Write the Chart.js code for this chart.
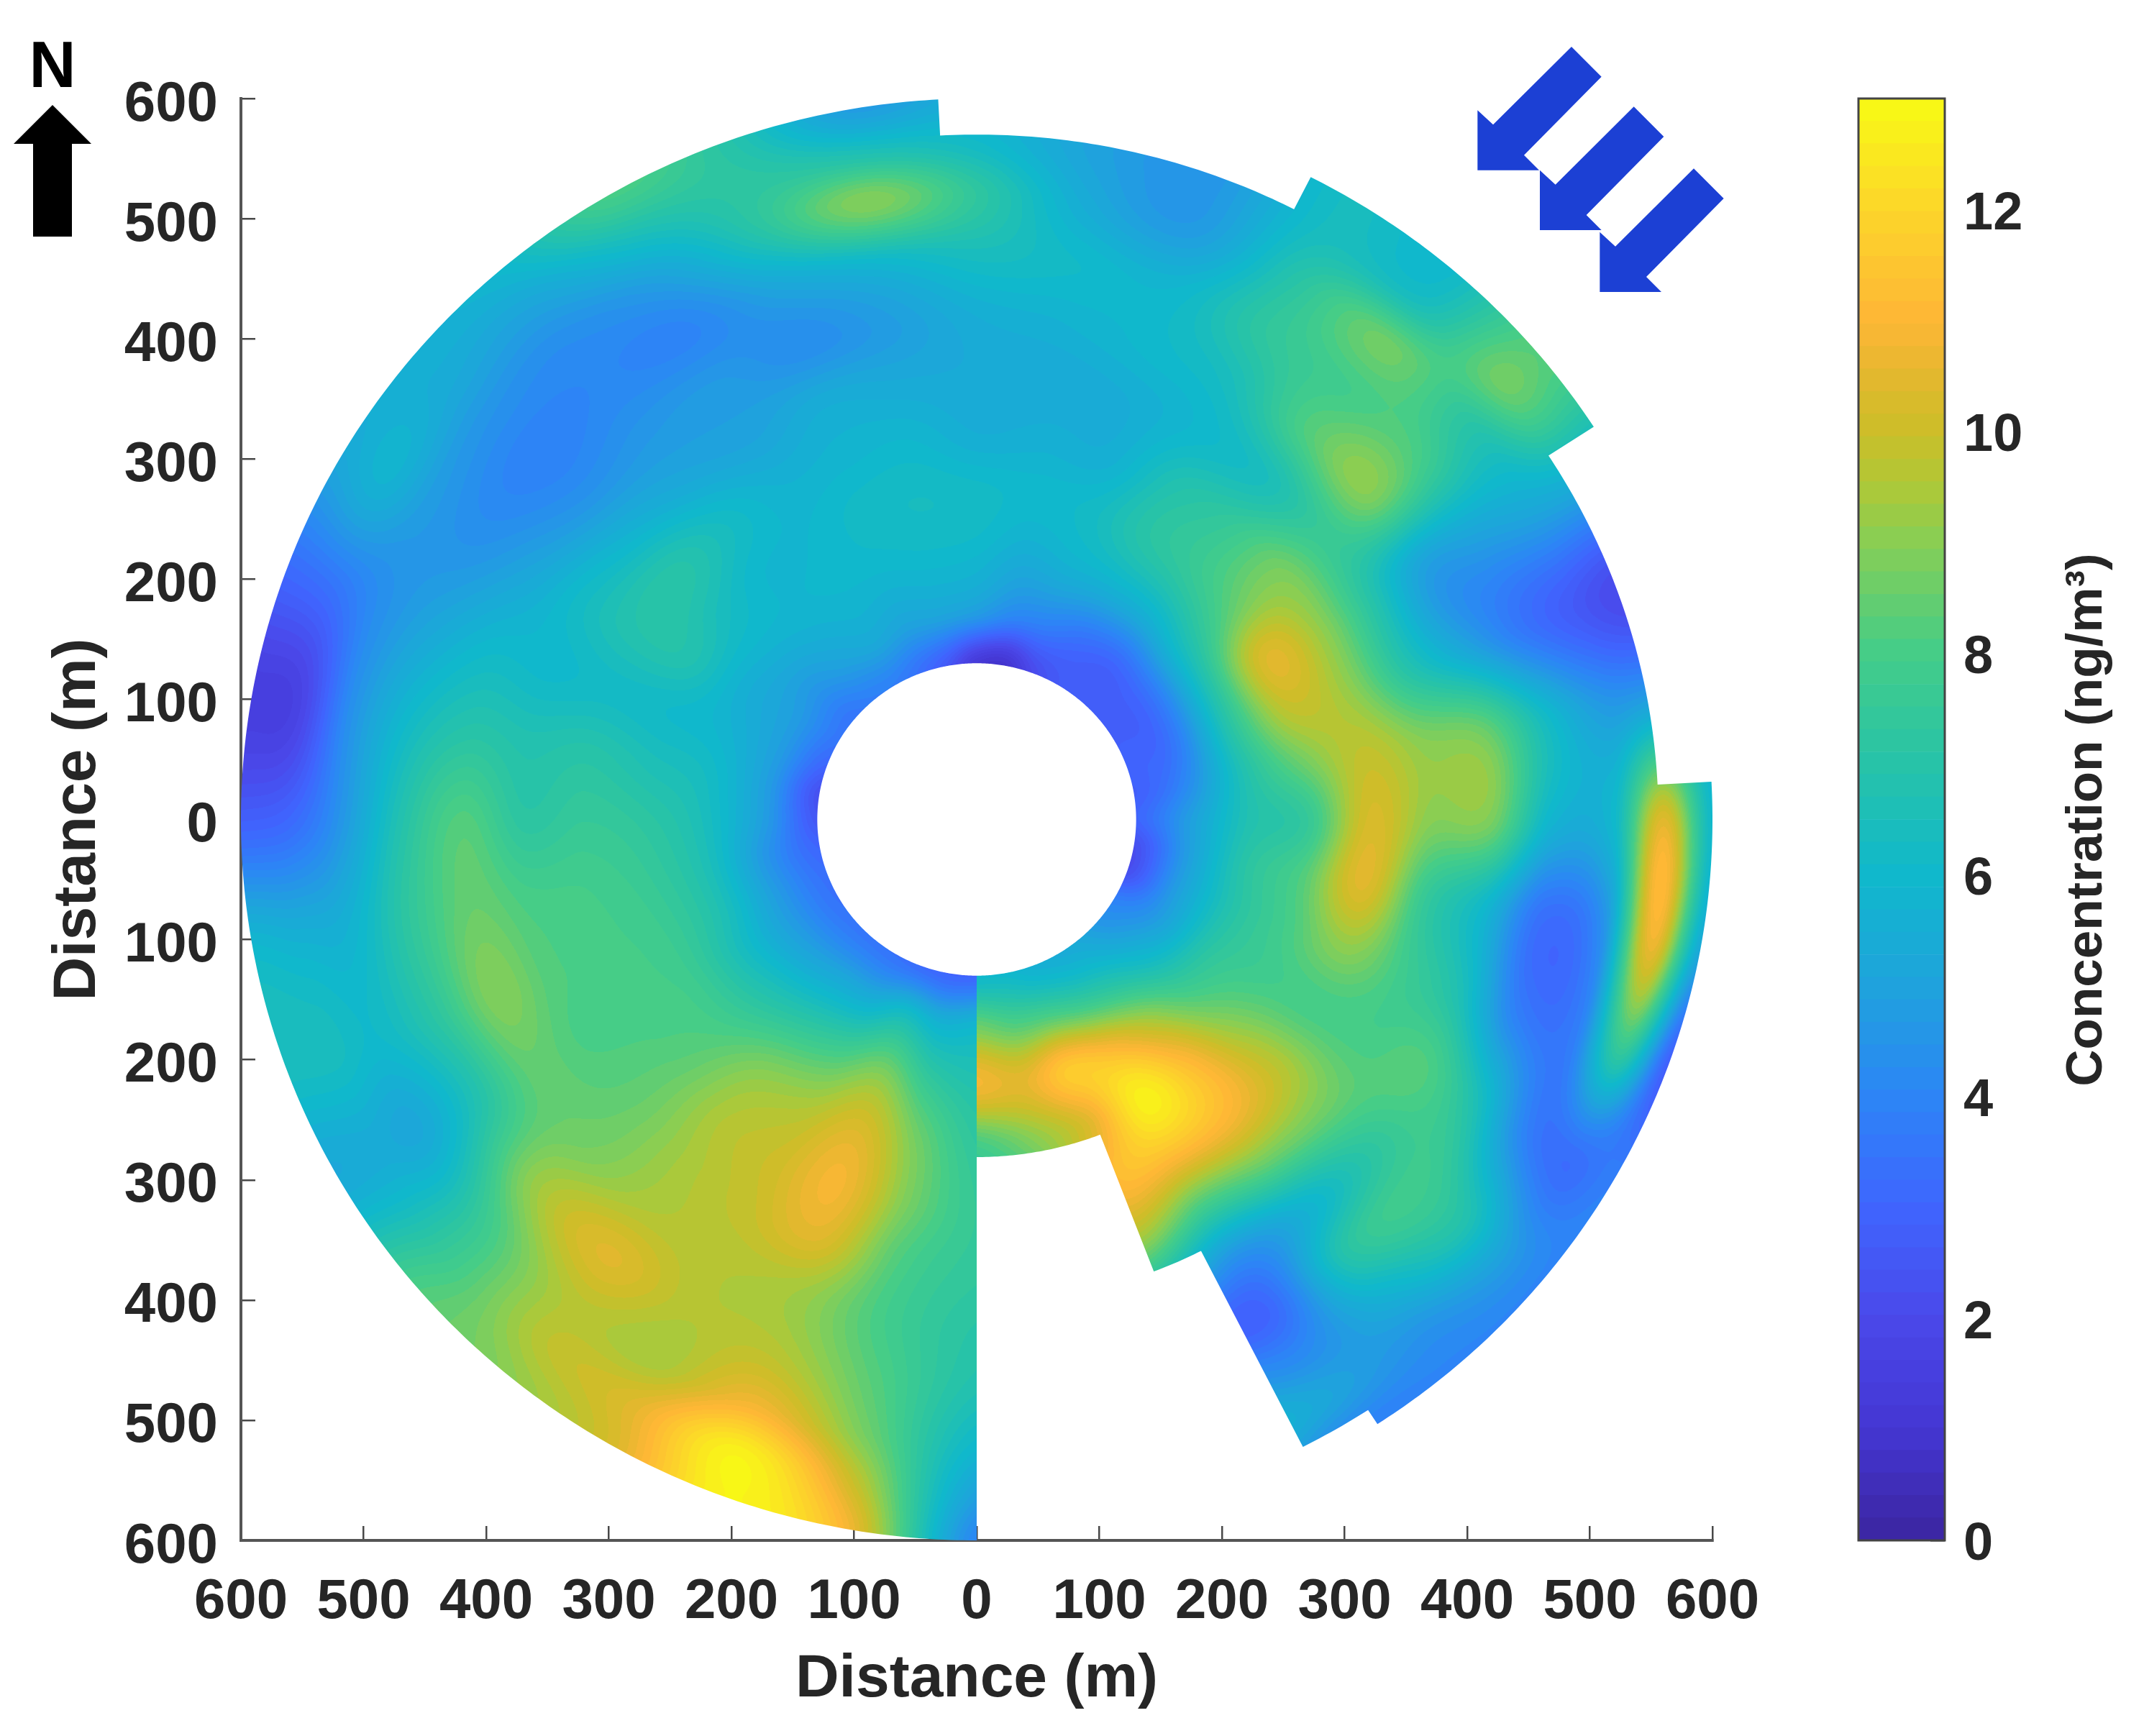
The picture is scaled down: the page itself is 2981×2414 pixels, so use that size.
<!DOCTYPE html>
<html>
<head>
<meta charset="utf-8">
<style>
html,body{margin:0;padding:0;background:#fff;width:2981px;height:2414px;overflow:hidden}
canvas{position:absolute;left:0;top:0}
</style>
<script src="https://cdn.jsdelivr.net/npm/chart.js@4"></script>
</head>
<body>
<canvas id="map" width="2981" height="2414"></canvas>
<canvas id="bar" width="2981" height="2414"></canvas>
<script>
// Axis labels and ticks
const xTitle = 'Distance (m)';
const yTitle = 'Distance (m)';
const barTitle = 'Concentration (ng/m³)';
const axisLimit = 600;
const axisStep = 100;
const barMax = 13;
const barStep = 2;

// Range rings (m) of the polar grid
const rings = [130,170,220,270,320,370,420,470,520,560,600];

// Concentration (ng/m3) read along each azimuth (deg clockwise from north), one value per ring
const az180w = [3,5.8,6.8,7.3,7.5,7.4,7.1,6.8,6,5,4];
const az190 = [3,5.6,7.4,8.6,8.8,8.2,7.9,8.2,8.7,9.8,10.8];
const az200 = [3.2,6.2,8.7,10.2,10.8,10.4,9.3,9.6,10.8,12.7,12.8];
const az210 = [3.4,5.4,7.8,9.4,10,9.9,9.6,9.6,9.4,10.4,10.2];
const az220 = [3.5,5.2,7.2,8.9,9.5,9.4,9.5,10.4,9.6,9.6,9];
const az230 = [3.5,4.9,6.7,8,8.4,8.5,8.7,9.2,7.8,7.6,8];
const az240 = [3.4,4.7,6.4,7.8,8,8.1,8.4,6.8,5.3,5.4,5.3];
const az250 = [3.3,4.6,6.6,7.7,8,8.2,8.9,7.2,6.1,6.4,6.4];
const az260 = [3,4.4,6.5,7.5,7.9,8,8.5,7.3,5.7,5.6,5.9];
const az270 = [2.5,4.7,6.4,7.2,7.5,7.2,8.2,6.8,4.5,3.1,2.8];
const az280 = [2.3,4.7,6.2,6.6,7,6.8,7,6.1,4.3,1.8,1.5];
const az290 = [3,4.8,5.8,6.1,6.2,6,6,5.2,4.3,3.4,3.1];
const az300 = [3.5,4.8,5.6,6.8,6.9,6.2,5.1,4.4,4.8,5.7,5.2];
const az310 = [3.5,4.6,5.7,6.4,7,5.7,4.4,3.9,4.5,5.3,5.6];
const az320 = [3.8,5,5.8,5.9,6.3,5.2,4.6,4.1,4.3,5.1,6];
const az330 = [3.8,5.3,5.9,5.9,5.7,5,4.7,4,5,6.5,8];
const az340 = [3.3,5,5.9,6.2,5.8,5.4,4.3,5.1,7,7.2,7];
const az350 = [2.5,5,6,6.3,5.9,5.3,4.8,5.9,8.9,6.8,4.8];
const az000 = [1.2,4.7,5.9,6.2,5.5,5.3,5.5,6.4,7.3,6.2,5.5];
const az010 = [0.9,4,5.4,6,5.6,5.3,5.7,6.1,5.4,5,5];
const az020 = [2,3.8,5.6,6.2,5.6,5.5,6,5.9,4.8,4.6,4.6];
const az030 = [2.6,3.3,5.6,7,6.8,6,6.5,7.3,7,6.4,6.3];
const az040 = [2.8,3,5.7,7.5,7.5,6.5,8.2,7.9,8.6,6.5,6];
const az050 = [2.8,3.2,6.4,8.4,8.8,7.6,8.9,8,7.2,8.6,8.3];
const az060 = [2.8,3.3,6.9,10.3,9.2,7,5,5,5.3,5.5,5.5];
const az070 = [3,3.5,7,9.8,9.2,7,5.2,3.6,2.6,2,2];
const az080 = [2.8,4,6.7,8.6,9.8,9,8.6,6.3,4.8,5,5];
const az090 = [3,4.7,6.7,7.5,10.2,9,8.8,5.8,6,10.4,6];
const az100 = [2.2,4.6,7,8.2,10.4,7.6,6,3.3,4.5,10.8,5.3];
const az110 = [2.3,4.7,6.9,8,9,7.8,6.6,3.8,3.8,7.5,2.8];
const az120 = [3.8,4.9,7.2,7.9,8,8,8.2,6.6,3.8,3.3,3.8];
const az130 = [4.5,5.7,7.8,9.2,9.7,8.7,7.3,7.8,6.8,5,4];
const az140 = [5.2,6.6,9.5,11.3,11,8.6,5.8,7,5.6,4.5,4];
const az150 = [5.4,7.2,11,12.7,11.3,8,4.5,3,4.2,5.2,4];
const az160 = [5.6,7.8,11.6,10.4,11,9.5,6.5,4,5.5,6.5,6];
const az170 = [6,8,10.5,9,8,7,7,7,7,7,7];
const az180e = [6,8.5,10.8,8,7,7,7,7,7,7,7];

// Outer edge of the scanned area: from each azimuth (unwrapped, starting south-west going clockwise) the radius
const edgeAzimuth = [180,357,387,417,447,507,513,519,540];
const edgeRadius = [600,570,600,556,600,586,403,281];
const holeRadius = 130;

// Colour scale
const stopValues = [0,1,2,3,4,5,6,7,8,9,9.5,10,10.5,11,11.5,12,13];
const stopColors = ['#3b25a0','#4436d2','#4a48ea','#3f65fe','#2c85f6','#1fa3dc','#10b8cc','#27c3a8','#44cd88','#88ce54','#aec838','#ccbe28','#e4b82e','#feb636','#fdc630','#fcd62a','#f8fb14'];
const colorLevels = 64;

const azColumns = [az180w,az190,az200,az210,az220,az230,az240,az250,az260,az270,az280,az290,az300,az310,az320,az330,az340,az350,az000,az010,az020,az030,az040,az050,az060,az070,az080,az090,az100,az110,az120,az130,az140,az150,az160,az170,az180e];

function rgb(h){return [parseInt(h.slice(1,3),16),parseInt(h.slice(3,5),16),parseInt(h.slice(5,7),16)];}
const stopRgb = stopColors.map(rgb);
const lut = [];
for(let i=0;i<colorLevels;i++){
  const v=(i+0.5)/colorLevels*barMax;
  let k=0; while(k<stopValues.length-2 && v>stopValues[k+1]) k++;
  const f=(v-stopValues[k])/(stopValues[k+1]-stopValues[k]);
  lut.push(stopRgb[k].map((c,j)=>Math.round(c+(stopRgb[k+1][j]-c)*f)));
}
function ringIndex(r){
  if(r<=rings[0]) return 0;
  for(let i=0;i<rings.length-1;i++) if(r<=rings[i+1]) return i+(r-rings[i])/(rings[i+1]-rings[i]);
  return rings.length-1;
}
function weights(t){
  const t2=t*t,t3=t2*t;
  return [-0.5*t3+t2-0.5*t,1.5*t3-2.5*t2+1,-1.5*t3+2*t2+0.5*t,0.5*t3-0.5*t2];
}
function field(az,r){
  const c=Math.min(azColumns.length-1.0001,(((az-180)%360+360)%360)/10);
  const q=Math.min(rings.length-1.0001,ringIndex(r));
  const c0=Math.floor(c),q0=Math.floor(q);
  const wc=weights(c-c0),wq=weights(q-q0);
  let s=0;
  for(let i=0;i<4;i++){
    const col=azColumns[Math.max(0,Math.min(azColumns.length-1,c0+i-1))];
    for(let j=0;j<4;j++) s+=wc[i]*wq[j]*col[Math.max(0,Math.min(rings.length-1,q0+j-1))];
  }
  return s;
}

const fieldPlugin={
  id:'polarField',
  beforeDatasetsDraw(chart){
    const {ctx,chartArea:a,scales:{x,y}}=chart;
    const L=Math.floor(a.left),T=Math.floor(a.top),W=Math.ceil(a.right-L),H=Math.ceil(a.bottom-T);
    const off=document.createElement('canvas');off.width=W;off.height=H;
    const oc=off.getContext('2d');const img=oc.createImageData(W,H);const d=img.data;
    for(let py=0;py<H;py++){
      const vy=y.getValueForPixel(T+py+0.5);
      for(let px=0;px<W;px++){
        const vx=x.getValueForPixel(L+px+0.5);
        const r=Math.hypot(vx,vy);
        if(r<holeRadius-6||r>axisLimit+6) continue;
        const az=Math.atan2(vx,vy)*180/Math.PI;
        const v=Math.max(0,Math.min(barMax,field(az,r)));
        const c=lut[Math.min(colorLevels-1,Math.floor(v/barMax*colorLevels))];
        const o=(py*W+px)*4;d[o]=c[0];d[o+1]=c[1];d[o+2]=c[2];d[o+3]=255;
      }
    }
    oc.putImageData(img,0,0);
    const pt=(az,r)=>[x.getPixelForValue(r*Math.sin(az*Math.PI/180)),y.getPixelForValue(r*Math.cos(az*Math.PI/180))];
    ctx.save();
    ctx.beginPath();
    let p=pt(180,holeRadius);ctx.moveTo(p[0],p[1]);
    for(let s=0;s<edgeRadius.length;s++){
      for(let az=edgeAzimuth[s];az<=edgeAzimuth[s+1]+1e-6;az+=0.5){
        p=pt(az,edgeRadius[s]);ctx.lineTo(p[0],p[1]);
      }
    }
    for(let az=540;az>=180;az-=0.5){p=pt(az,holeRadius);ctx.lineTo(p[0],p[1]);}
    ctx.closePath();ctx.clip();
    ctx.drawImage(off,L,T);
    ctx.restore();
  }
};

const decorPlugin={
  id:'decor',
  afterDraw(chart){
    const ctx=chart.ctx;
    ctx.save();
    // North arrow
    ctx.fillStyle='#000';
    ctx.beginPath();
    [[73,146],[127,200],[100,200],[100,329],[46,329],[46,200],[19,200]].forEach((q,i)=>i?ctx.lineTo(q[0],q[1]):ctx.moveTo(q[0],q[1]));
    ctx.closePath();ctx.fill();
    ctx.font='bold 90px "Liberation Sans"';ctx.textAlign='center';ctx.textBaseline='alphabetic';
    ctx.fillText('N',73,121);
    // Wind arrows
    const shape=[[495,75],[620,200],[297,527],[360,590],[103,590],[103,340],[168,400]];
    ctx.fillStyle='#1c40d4';
    [[0,0],[260,250],[510,508]].forEach(o=>{
      ctx.beginPath();
      shape.forEach((q,i)=>{const X=2020+(q[0]+o[0])/3,Y=40+(q[1]+o[1])/3;i?ctx.lineTo(X,Y):ctx.moveTo(X,Y);});
      ctx.closePath();ctx.fill();
    });
    ctx.restore();
  }
};

const nodes=[];
azColumns.forEach((col,i)=>col.forEach((v,j)=>{
  const a=(180+i*10)*Math.PI/180;
  nodes.push({x:rings[j]*Math.sin(a),y:rings[j]*Math.cos(a),v});
}));

const tickFont={family:'"Liberation Sans"',size:78,weight:'bold'};
const barTickFont={family:'"Liberation Sans"',size:74,weight:'bold'};
const titleFont={family:'"Liberation Sans"',size:84,weight:'bold'};
const inkColor='#262626';
function axisOpts(extra){
  return Object.assign({
    type:'linear',min:-axisLimit,max:axisLimit,
    grid:{drawOnChartArea:false,drawTicks:true,tickLength:-20,color:'#484848',lineWidth:2.5},
    border:{display:true,color:'#555',width:4}
  },extra);
}
new Chart(document.getElementById('map'),{
  type:'scatter',
  data:{datasets:[{label:'Concentration',data:nodes,pointRadius:0,pointHoverRadius:0,showLine:false}]},
  options:{
    responsive:false,animation:false,devicePixelRatio:1,
    layout:{padding:{left:0,right:600,top:137,bottom:0}},
    plugins:{legend:{display:false},tooltip:{enabled:false}},
    events:[],
    scales:{
      x:axisOpts({
        afterFit(s){s.height=272;},
        ticks:{stepSize:axisStep,autoSkip:false,maxRotation:0,padding:60,color:inkColor,font:tickFont,callback:v=>String(Math.abs(v))},
        title:{display:true,text:xTitle,color:inkColor,font:titleFont,padding:{top:0,bottom:28}}
      }),
      y:axisOpts({
        afterFit(s){s.width=335;},
        ticks:{stepSize:axisStep,autoSkip:false,padding:52,labelOffset:9,color:inkColor,font:tickFont,callback:v=>String(Math.abs(v))},
        title:{display:true,text:yTitle,color:inkColor,font:titleFont,padding:{top:58,bottom:0}}
      })
    }
  },
  plugins:[fieldPlugin,decorPlugin]
});

// Colour bar: one floating bar per colour level, on the library's own value axis
const barDatasets=lut.map((c,i)=>({
  data:[[i/colorLevels*barMax,(i+1)/colorLevels*barMax]],
  backgroundColor:'rgb('+c.join(',')+')',
  borderWidth:0,grouped:false,barPercentage:1,categoryPercentage:1
}));
const barFramePlugin={
  id:'barFrame',
  afterDraw(chart){
    const ctx=chart.ctx,a=chart.chartArea;
    ctx.save();
    ctx.strokeStyle='#444';ctx.lineWidth=3;
    ctx.strokeRect(a.left,a.top,a.right-a.left,a.bottom-a.top);
    ctx.translate(2902,1140);ctx.rotate(-Math.PI/2);
    ctx.font='bold 71px "Liberation Sans"';ctx.fillStyle=inkColor;ctx.textAlign='center';ctx.textBaseline='middle';
    ctx.fillText(barTitle,0,0);
    ctx.restore();
  }
};
new Chart(document.getElementById('bar'),{
  type:'bar',
  data:{labels:['Concentration'],datasets:barDatasets},
  options:{
    responsive:false,animation:false,devicePixelRatio:1,
    layout:{padding:{left:2584,right:0,top:137,bottom:272}},
    plugins:{legend:{display:false},tooltip:{enabled:false}},
    events:[],
    scales:{
      x:{display:false},
      y:{
        position:'right',min:0,max:barMax,
        afterFit(s){s.width=277;},
        afterBuildTicks(s){s.ticks=s.ticks.filter(t=>t.value%barStep===0);},
        grid:{drawOnChartArea:false,drawTicks:true,tickLength:-20,color:'#333',lineWidth:2.5},
        border:{display:false},
        ticks:{stepSize:barStep,padding:46,labelOffset:7,color:inkColor,font:barTickFont}
      }
    }
  },
  plugins:[barFramePlugin]
});
</script>
</body>
</html>
